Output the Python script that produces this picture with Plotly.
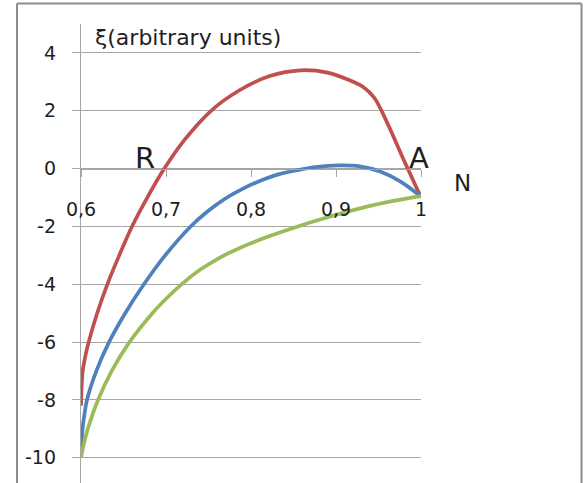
import plotly.graph_objects as go

# ---- data ----
red_x = [0.600, 0.6008, 0.602, 0.605, 0.609, 0.619, 0.631, 0.645, 0.660, 0.678, 0.698,
         0.722, 0.753, 0.786, 0.822, 0.858, 0.890, 0.914, 0.932, 0.945, 0.960, 0.980, 1.000]
red_y = [-8.2, -7.5, -7.0, -6.5, -6.0, -5.0, -4.0, -3.0, -2.0, -1.0, 0.0,
         1.0, 2.0, 2.7, 3.2, 3.4, 3.32, 3.08, 2.82, 2.45, 1.6, 0.28, -1.0]

blue_x = [0.600, 0.6008, 0.6018, 0.604, 0.607, 0.618, 0.633, 0.652, 0.674, 0.699, 0.729,
          0.748, 0.769, 0.790, 0.811, 0.832, 0.855, 0.878, 0.903, 0.928, 0.952, 0.976, 1.000]
blue_y = [-9.85, -9.4, -9.0, -8.5, -8.0, -7.0, -6.0, -5.0, -4.0, -3.0, -2.0,
          -1.5, -1.05, -0.7, -0.42, -0.2, -0.05, 0.06, 0.11, 0.08, -0.1, -0.45, -0.97]

green_x = [0.600, 0.6035, 0.608, 0.620, 0.636, 0.657, 0.684, 0.7001, 0.7183, 0.740,
           0.762, 0.790, 0.822, 0.856, 0.890, 0.925, 0.960, 1.000]
green_y = [-10.0, -9.5, -9.0, -8.0, -7.0, -6.0, -5.0, -4.5, -4.0, -3.5,
           -3.1, -2.7, -2.33, -1.99, -1.68, -1.4, -1.16, -0.95]

x_ticks = [0.6, 0.7, 0.8, 0.9, 1.0]
x_tick_labels = ["0,6", "0,7", "0,8", "0,9", "1"]
y_ticks = [-10, -8, -6, -4, -2, 0, 2, 4]
y_tick_labels = ["-10", "-8", "-6", "-4", "-2", "0", "2", "4"]

title_text = "ξ(arbitrary units)"
point_labels = ["R", "A"]
point_label_x = [0.6753, 0.9976]
point_label_y = [0.35, 0.38]
axis_name = "N"

FONT = "DejaVu Sans"
TXT = "#1e1e1e"
GRID = "#a6a6a6"

Y_MIN, Y_MAX = -10.87, 5.0

fig = go.Figure()
for xs, ys, col in [(red_x, red_y, "#C0504D"),
                    (blue_x, blue_y, "#4F81BD"),
                    (green_x, green_y, "#9BBB59")]:
    fig.add_trace(go.Scatter(x=xs, y=ys, mode="lines",
                             line=dict(color=col, width=3.7, shape="spline", smoothing=1.0),
                             showlegend=False, hoverinfo="skip"))

fig.update_layout(
    width=584, height=483,
    margin=dict(l=81, r=163, t=24, b=0),
    paper_bgcolor="white", plot_bgcolor="white",
    font=dict(family=FONT, color=TXT, size=18),
    xaxis=dict(range=[0.6, 1.0], anchor="free", automargin=False,
               position=(0 - Y_MIN) / (Y_MAX - Y_MIN),
               showline=True, linecolor=GRID, linewidth=1.3,
               tickvals=x_ticks, ticktext=x_tick_labels,
               ticks="outside", ticklen=7, tickcolor=GRID, tickwidth=1.3,
               ticklabelstandoff=16,
               showgrid=False, zeroline=False,
               tickfont=dict(family=FONT, size=19, color=TXT)),
    yaxis=dict(range=[Y_MIN, Y_MAX], automargin=False,
               showline=True, linecolor=GRID, linewidth=1.3,
               tickvals=y_ticks, ticktext=y_tick_labels,
               ticks="outside", ticklen=8, tickcolor=GRID, tickwidth=1.3,
               ticklabelstandoff=12,
               showgrid=True, gridcolor=GRID, gridwidth=1.3, zeroline=False,
               tickfont=dict(family=FONT, size=19, color=TXT)),
)

# outer chart frame (pixel positions converted to paper fractions)
FR = "#8c8c8c"
PLOT_L, PLOT_W, PLOT_B, PLOT_H = 81, 340, 483, 459
def px_x(p):
    return (p - PLOT_L) / PLOT_W
def px_y(p):
    return (PLOT_B - p) / PLOT_H
fx0, fx1, fy0, fy1 = px_x(17), px_x(581.5), px_y(490), px_y(3.5)
for x0, y0, x1, y1 in [(fx0, fy0, fx0, fy1), (fx0, fy1, fx1, fy1), (fx1, fy1, fx1, fy0)]:
    fig.add_shape(type="line", xref="paper", yref="paper", x0=x0, y0=y0, x1=x1, y1=y1,
                  line=dict(color=FR, width=2), layer="above")

fig.add_annotation(x=0.614, y=4.53, xref="x", yref="y", text=title_text,
                   showarrow=False, xanchor="left", yanchor="middle",
                   font=dict(family=FONT, size=22, color=TXT))
for t, x, y in zip(point_labels, point_label_x, point_label_y):
    fig.add_annotation(x=x, y=y, xref="x", yref="y", text=t, showarrow=False,
                       xanchor="center", yanchor="middle",
                       font=dict(family=FONT, size=29, color=TXT))
fig.add_annotation(x=px_x(462), y=px_y(183), xref="paper", yref="paper", text=axis_name,
                   showarrow=False, xanchor="center", yanchor="middle",
                   font=dict(family=FONT, size=23, color=TXT))

fig.write_html("out.html", config={"displayModeBar": False},
               post_script="document.body.style.margin='0';")
